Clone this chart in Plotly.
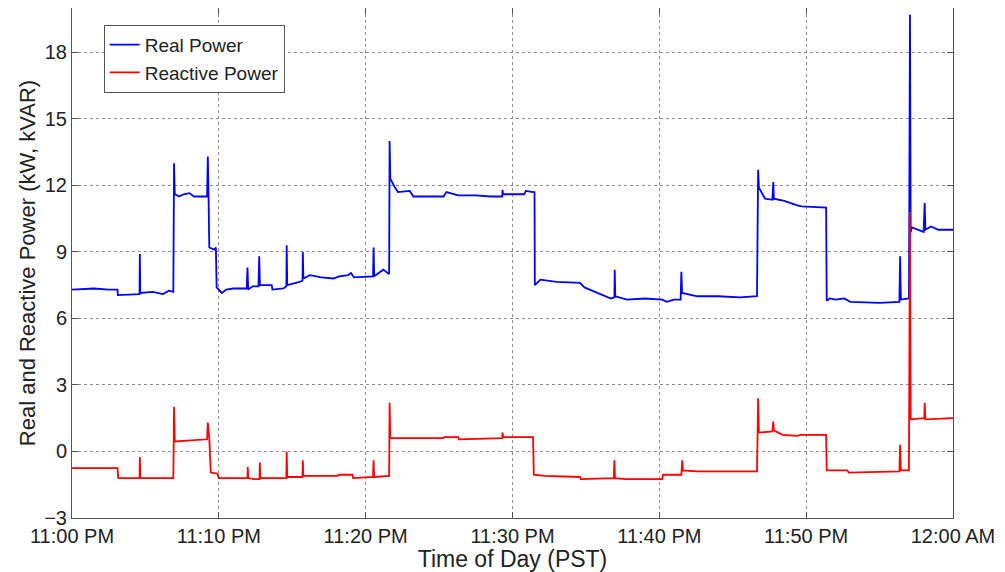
import plotly.graph_objects as go

# minutes after 11:00 PM and readings (kW) for real power
real_t = [0, 1.5, 2.5, 3.1, 3.12, 4.6, 4.62, 4.65, 5.5, 6.2, 6.6, 6.9, 6.95, 7.0, 7.3, 7.6, 8.0, 8.3,
          9.2, 9.25, 9.3, 9.35, 9.7, 9.8, 9.85, 10.2, 10.5, 11.0, 11.9, 11.95, 12.0, 12.3, 12.7, 12.75,
          12.8, 13.6, 13.65, 14.4, 14.6, 14.62, 14.66, 15.0, 15.5, 15.7, 15.72, 15.76, 16.2, 17.0, 17.8,
          18.2, 18.8, 19.0, 19.2, 20.5, 20.54, 20.58, 21.2, 21.5, 21.6, 21.63, 21.68, 22.0, 22.2, 23.0,
          23.25, 25.3, 25.5, 26.3, 27.5, 28.5, 29.3, 29.32, 29.36, 30.8, 30.9, 31.4, 31.5, 31.52, 31.9,
          33.0, 34.6, 34.9, 35.8, 36.7, 36.94, 36.96, 37.0, 37.8, 39.0, 40.2, 40.5, 41.0, 41.45, 41.5,
          41.55, 42.6, 44.0, 45.5, 46.65, 46.73, 46.78, 47.2, 47.7, 47.76, 47.8, 48.5, 49.4, 49.7,
          51.36, 51.4, 51.6, 52.0, 52.6, 53.0, 55.0, 56.35, 56.4, 56.45, 57.0, 57.07, 57.12, 57.2,
          58.0, 58.07, 58.12, 58.5, 59.0, 60.0]
real_kw = [7.3, 7.35, 7.3, 7.3, 7.05, 7.1, 8.9, 7.15, 7.2, 7.1, 7.25, 7.2, 13.0, 11.6, 11.5, 11.6, 11.65, 11.5,
           11.5, 13.3, 11.5, 9.2, 9.1, 9.2, 7.4, 7.15, 7.3, 7.35, 7.35, 8.3, 7.3, 7.45, 7.45, 8.8,
           7.5, 7.5, 7.3, 7.35, 7.45, 9.3, 7.5, 7.55, 7.65, 7.7, 9.0, 7.8, 7.95, 7.85, 7.8,
           7.9, 7.95, 8.05, 7.85, 7.9, 9.2, 7.9, 8.2, 8.05, 8.0, 14.0, 12.3, 11.9, 11.7, 11.75,
           11.5, 11.5, 11.7, 11.55, 11.55, 11.5, 11.5, 11.8, 11.6, 11.6, 11.75, 11.7, 11.7, 7.5, 7.75,
           7.65, 7.6, 7.4, 7.15, 6.9, 6.95, 8.2, 7.0, 6.85, 6.9, 6.85, 6.75, 6.85, 6.85, 8.1,
           7.15, 7.0, 7.0, 6.95, 7.0, 12.7, 11.9, 11.4, 11.35, 12.15, 11.4, 11.3, 11.1, 11.05,
           11.0, 6.8, 6.9, 6.85, 6.9, 6.75, 6.7, 6.75, 8.8, 6.85, 6.9, 19.7, 9.9, 10.1,
           9.9, 11.2, 10.0, 10.15, 10.0, 10.0]

# reactive power (kVAR)
reactive_t = [0, 3.1, 3.15, 4.6, 4.62, 4.66, 6.9, 6.95, 7.0, 8.5, 9.2, 9.25, 9.35, 9.45, 9.9, 10.0,
              11.95, 11.97, 12.0, 12.4, 12.77, 12.79, 12.83, 14.6, 14.62, 14.66, 15.7, 15.72, 15.76,
              18.1, 18.15, 19.1, 19.15, 20.5, 20.54, 20.58, 21.6, 21.63, 21.68, 25.3, 25.35, 26.3,
              26.35, 29.3, 29.32, 29.36, 31.4, 31.45, 32.2, 34.6, 34.65, 36.9, 36.94, 36.98, 37.7,
              40.2, 40.25, 41.5, 41.56, 41.6, 42.6, 46.65, 46.73, 46.78, 47.7, 47.76, 47.8, 48.4,
              49.4, 49.6, 51.36, 51.4, 52.8, 52.9, 56.35, 56.4, 56.45, 57.0, 57.07, 57.12, 58.05,
              58.07, 58.12, 60.0]
reactive_kvar = [-0.75, -0.75, -1.2, -1.2, -0.25, -1.2, -1.2, 2.0, 0.45, 0.5, 0.55, 1.3, 0.6, -0.95, -1.0, -1.2,
                 -1.2, -0.7, -1.2, -1.25, -1.25, -0.5, -1.2, -1.2, 0.0, -1.15, -1.15, -0.4, -1.1,
                 -1.1, -1.05, -1.05, -1.2, -1.15, -0.4, -1.15, -1.1, 2.2, 0.6, 0.6, 0.65, 0.65,
                 0.55, 0.6, 0.85, 0.65, 0.65, -1.05, -1.1, -1.15, -1.25, -1.2, -0.4, -1.2, -1.25,
                 -1.25, -1.05, -1.05, -0.4, -0.85, -0.9, -0.9, 2.4, 0.85, 0.9, 1.35, 0.95, 0.75,
                 0.7, 0.75, 0.75, -0.85, -0.85, -0.95, -0.9, 0.3, -0.85, -0.85, 10.8, 1.45, 1.5,
                 2.2, 1.45, 1.5]

x_ticks = [0, 10, 20, 30, 40, 50, 60]
x_labels = ["11:00 PM", "11:10 PM", "11:20 PM", "11:30 PM", "11:40 PM", "11:50 PM", "12:00 AM"]
y_ticks = [-3, 0, 3, 6, 9, 12, 15, 18]

fig = go.Figure()
fig.add_trace(go.Scatter(x=real_t, y=real_kw, mode="lines", name="Real Power",
                         line=dict(color="#0000ff", width=1.8)))
fig.add_trace(go.Scatter(x=reactive_t, y=reactive_kvar, mode="lines", name="Reactive Power",
                         line=dict(color="#ff0000", width=1.8)))

axis_style = dict(showline=True, mirror="ticks", linecolor="#555555", linewidth=1,
                  ticks="inside", ticklen=6, tickcolor="#555555", automargin=False,
                  showgrid=True, gridcolor="#8c8c8c", griddash="dot", gridwidth=1,
                  zeroline=False, tickfont=dict(size=20, color="#222222"))

# page body adds 8px around the figure, so size/margins are shrunk by that
fig.update_layout(
    width=997, height=564,
    margin=dict(l=64, r=52, t=0, b=54),
    plot_bgcolor="white", paper_bgcolor="white",
    font=dict(family="Liberation Sans, Arial", color="#222222"),
    legend=dict(x=0.036, y=0.967, xanchor="left", yanchor="top",
                bgcolor="white", bordercolor="#555555", borderwidth=1,
                font=dict(size=19), tracegroupgap=0),
)
fig.update_xaxes(range=[0, 60], tickvals=x_ticks, ticktext=x_labels,
                 title=dict(text="Time of Day (PST)", font=dict(size=23), standoff=0), **axis_style)
fig.update_yaxes(range=[-3, 20], tickvals=y_ticks,
                 title=dict(text="Real and Reactive Power (kW, kVAR)", font=dict(size=22), standoff=2),
                 **axis_style)

fig.write_html("out.html")
